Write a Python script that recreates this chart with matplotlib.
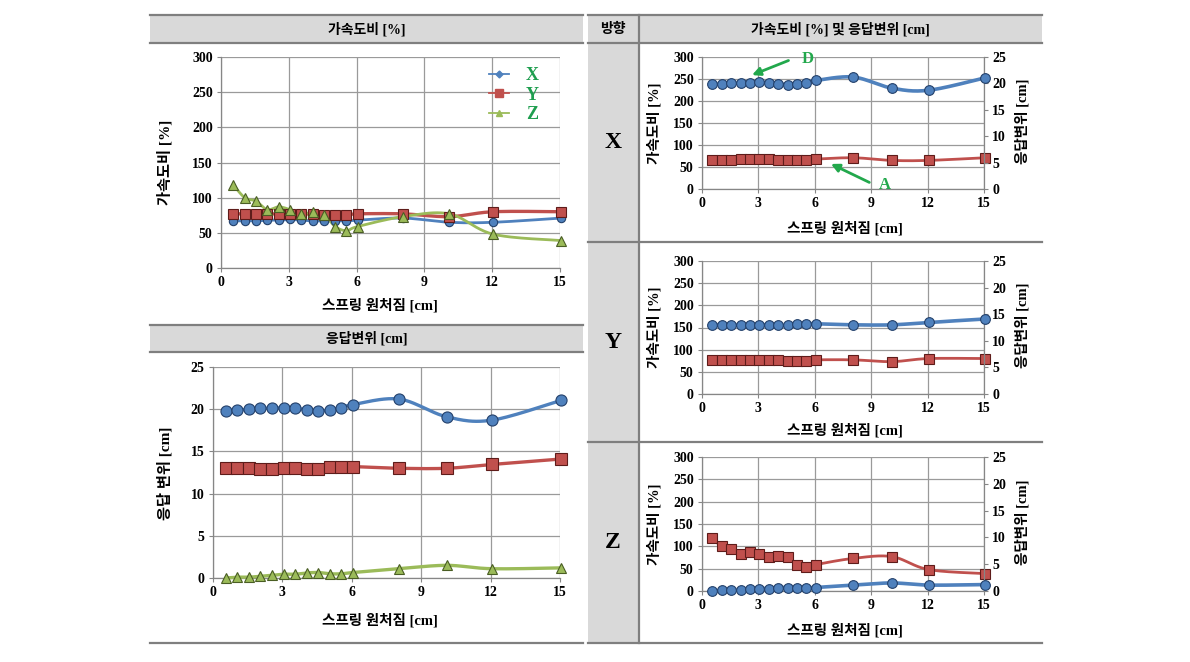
import numpy as np
import matplotlib
matplotlib.use("Agg")
import matplotlib.pyplot as plt
from matplotlib.lines import Line2D
from matplotlib.patches import Rectangle

# ---------------- data ----------------
spring = [0.55, 1.05, 1.55, 2.05, 2.55, 3.05, 3.55, 4.05, 4.55, 5.05, 5.55, 6.05, 8.05, 10.1, 12.05, 15.05]

acc_x = [67, 67, 67, 68, 68, 69, 68, 67, 67, 67, 67, 68, 71, 65, 65, 71]
acc_y = [77, 77, 77, 77, 77, 77, 77, 77, 75, 75, 75, 77, 77, 73, 80, 80]
acc_z = [118, 100, 95, 83, 87, 83, 77, 79, 76, 59, 53, 59, 73, 77, 48, 39]

disp_x = [19.8, 19.9, 20.0, 20.1, 20.1, 20.2, 20.1, 19.95, 19.75, 19.95, 20.15, 20.55, 21.2, 19.1, 18.7, 21.05]
disp_y = [13.0, 13.0, 13.0, 12.9, 12.9, 13.0, 13.0, 12.9, 12.9, 13.15, 13.15, 13.2, 13.0, 13.0, 13.45, 14.1]
disp_z = [0.0, 0.1, 0.1, 0.2, 0.3, 0.45, 0.45, 0.6, 0.65, 0.5, 0.5, 0.65, 1.1, 1.5, 1.1, 1.2]

x_ticks = [0, 3, 6, 9, 12, 15]
acc_ticks = [0, 50, 100, 150, 200, 250, 300]
disp_ticks = [0, 5, 10, 15, 20, 25]
dir_labels = ["X", "Y", "Z"]
legend_labels = ["X", "Y", "Z"]

# ---------------- style ----------------
W, H = 1190, 662
BLUE, BLUE_E = "#4f81bd", "#24416b"
RED, RED_E = "#c0504d", "#5e1c1a"
GREEN, GREEN_E = "#9bbb59", "#4a5e24"
LEG_GREEN = "#1f9e4f"
GRID = "#9a9a9a"
TABLE = "#7f7f7f"
FILL = "#d9d9d9"
SERIF = ["Liberation Serif", "DejaVu Serif"]
MIX = ["Liberation Serif", "Noto Sans CJK KR", "DejaVu Sans"]
KR = ["Noto Sans CJK KR", "DejaVu Sans"]
TICK_FS = 10

fig = plt.figure(figsize=(W / 100, H / 100), dpi=100)
fig.patch.set_facecolor("white")


def fx(x):
    return x / W


def fy(y):
    return 1 - y / H


def add_axes(l, r, t, b):
    return fig.add_axes([fx(l), fy(b), fx(r) - fx(l), fy(t) - fy(b)])


def smooth(x, y, n=24):
    x = np.asarray(x, float)
    y = np.asarray(y, float)
    P = np.column_stack([x, y])
    out = [P[0]]
    t = np.linspace(0, 1, n)[1:, None]
    for i in range(len(P) - 1):
        p0 = P[i - 1] if i > 0 else P[i]
        p1, p2 = P[i], P[i + 1]
        p3 = P[i + 2] if i + 2 < len(P) else P[i + 1]
        c1 = p1 + (p2 - p0) / 6
        c2 = p2 - (p3 - p1) / 6
        seg = ((1 - t) ** 3) * p1 + 3 * ((1 - t) ** 2) * t * c1 + 3 * (1 - t) * t ** 2 * c2 + t ** 3 * p2
        out.extend(seg)
    out = np.array(out)
    return out[:, 0], out[:, 1]


def style_axes(ax, yticks, ylim, fs=TICK_FS):
    ax.set_xlim(0, 15)
    ax.set_ylim(*ylim)
    ax.set_xticks(x_ticks)
    ax.set_yticks(yticks)
    ax.grid(True, color=GRID, linewidth=0.9)
    ax.set_axisbelow(True)
    for s in ["top", "right"]:
        ax.spines[s].set_visible(False)
    for s in ["left", "bottom"]:
        ax.spines[s].set_color("#868686")
        ax.spines[s].set_linewidth(0.9)
    ax.tick_params(axis="both", length=3, width=0.8, color="#868686", pad=3, labelsize=fs)
    for lab in ax.get_xticklabels() + ax.get_yticklabels():
        lab.set_fontfamily(SERIF)
        lab.set_fontweight("bold")


def series(ax, x, y, color, ecolor, marker, ms, lw):
    sx, sy = smooth(x, y)
    ax.plot(sx, sy, color=color, lw=lw, solid_capstyle="round", zorder=3, clip_on=False)
    ax.plot(x, y, linestyle="none", marker=marker, ms=ms, mfc=color, mec=ecolor, mew=0.8,
            zorder=4, clip_on=False)


# ---------------- table ----------------
def hline(y, x0, x1):
    fig.add_artist(Line2D([fx(x0), fx(x1)], [fy(y), fy(y)], color=TABLE, lw=1.6))


def rect(x0, y0, x1, y1):
    fig.add_artist(Rectangle((fx(x0), fy(y1)), fx(x1) - fx(x0), fy(y0) - fy(y1),
                             facecolor=FILL, edgecolor="none", zorder=0))


rect(150, 15, 583, 43)
rect(588, 15, 1042, 43)
rect(150, 325, 583, 352)
rect(588, 43, 639, 643)
for y in (15, 43, 643):
    hline(y, 150, 583)
    hline(y, 588, 1042)
hline(325, 150, 583)
hline(352, 150, 583)
hline(242, 588, 1042)
hline(442, 588, 1042)
fig.add_artist(Line2D([fx(639), fx(639)], [fy(15), fy(643)], color=TABLE, lw=1.6))

fig.text(fx(367), fy(29), "가속도비 [%]", ha="center", va="center", fontsize=10, fontweight="bold", family=MIX)
fig.text(fx(367), fy(338), "응답변위 [cm]", ha="center", va="center", fontsize=10, fontweight="bold", family=MIX)
fig.text(fx(613), fy(29), "방향", ha="center", va="center", fontsize=10, fontweight="bold", family=KR)
fig.text(fx(840), fy(29), "가속도비 [%] 및 응답변위 [cm]", ha="center", va="center", fontsize=10, fontweight="bold", family=MIX)
for lab, yc in zip(dir_labels, (143, 343, 543)):
    fig.text(fx(613), fy(yc), lab, ha="center", va="center", fontsize=17, fontweight="bold", family=SERIF)

XLABEL = "스프링 원처짐 [cm]"

# ---------------- top-left: acceleration ratio ----------------
ax1 = add_axes(221, 560, 57, 268)
style_axes(ax1, acc_ticks, (0, 300))
series(ax1, spring, acc_x, BLUE, BLUE_E, "o", 6, 2.0)
series(ax1, spring, acc_y, RED, RED_E, "s", 6.5, 2.4)
series(ax1, spring, acc_z, GREEN, GREEN_E, "^", 6.5, 2.0)
handles = [
    Line2D([], [], color=BLUE, lw=1.3, marker="D", ms=3.5, mfc=BLUE, mec=BLUE),
    Line2D([], [], color=RED, lw=1.3, marker="s", ms=6, mfc=RED, mec=RED),
    Line2D([], [], color=GREEN, lw=1.3, marker="^", ms=5, mfc=GREEN, mec=GREEN),
]
leg = ax1.legend(handles, legend_labels, loc="upper right", bbox_to_anchor=(0.985, 1.03),
                 frameon=False, handlelength=1.1, handletextpad=0.95, labelspacing=0.15,
                 prop={"family": SERIF, "weight": "bold", "size": 13}, labelcolor=LEG_GREEN)
fig.text(fx(380), fy(305), XLABEL, ha="center", va="center", fontsize=10.5, fontweight="bold", family=MIX)
fig.text(fx(165), fy(162), "가속도비 [%]", ha="center", va="center", rotation=90, fontsize=11, fontweight="bold", family=MIX)

# ---------------- bottom-left: displacement ----------------
ax2 = add_axes(213, 560, 367, 578)
style_axes(ax2, disp_ticks, (0, 25))
series(ax2, spring, disp_x, BLUE, BLUE_E, "o", 8, 2.4)
series(ax2, spring, disp_y, RED, RED_E, "s", 8, 2.4)
series(ax2, spring, disp_z, GREEN, GREEN_E, "^", 7.5, 2.4)
fig.text(fx(380), fy(620), XLABEL, ha="center", va="center", fontsize=10.5, fontweight="bold", family=MIX)
fig.text(fx(165), fy(473), "응답 변위 [cm]", ha="center", va="center", rotation=90, fontsize=11, fontweight="bold", family=MIX)

# ---------------- right column ----------------
panels = [
    (acc_x, disp_x, (57, 189), 228),
    (acc_y, disp_y, (261, 394), 430),
    (acc_z, disp_z, (457, 591), 630),
]
right_axes = []
for acc, disp, (t, b), xl_y in panels:
    ax = add_axes(702, 984, t, b)
    style_axes(ax, acc_ticks, (0, 300))
    series(ax, spring, acc, RED, RED_E, "s", 6.5, 2.0)
    axr = ax.twinx()
    axr.set_ylim(0, 25)
    axr.set_yticks(disp_ticks)
    for s in ["top", "left", "bottom"]:
        axr.spines[s].set_visible(False)
    axr.spines["right"].set_color("#868686")
    axr.spines["right"].set_linewidth(0.9)
    axr.tick_params(axis="y", length=3, width=0.8, color="#868686", pad=3, labelsize=TICK_FS)
    for lab in axr.get_yticklabels():
        lab.set_fontfamily(SERIF)
        lab.set_fontweight("bold")
    series(axr, spring, disp, BLUE, BLUE_E, "o", 7, 2.6)
    right_axes.append((ax, axr))
    yc = (t + b) / 2
    fig.text(fx(845), fy(xl_y), XLABEL, ha="center", va="center", fontsize=10.5, fontweight="bold", family=MIX)
    fig.text(fx(654), fy(yc), "가속도비 [%]", ha="center", va="center", rotation=90, fontsize=10.5, fontweight="bold", family=MIX)
    fig.text(fx(1022), fy(yc - 2), "응답변위 [cm]", ha="center", va="center", rotation=90, fontsize=10.5, fontweight="bold", family=MIX)

# annotations in X panel
axX = right_axes[0][0]
arrow = dict(arrowstyle="-|>", color="#22a84c", lw=2.0, mutation_scale=12, shrinkA=0, shrinkB=0)
axX.annotate("", xy=(2.66, 259), xytext=(4.6, 292), arrowprops=arrow, annotation_clip=False)
axX.text(5.6, 296, "D", color="#22a84c", fontsize=12, fontweight="bold", family=SERIF,
         ha="center", va="center", clip_on=False)
axX.annotate("", xy=(6.86, 57), xytext=(8.9, 15), arrowprops=arrow, annotation_clip=False)
axX.text(9.75, 10, "A", color="#22a84c", fontsize=12, fontweight="bold", family=SERIF,
         ha="center", va="center", clip_on=False)

fig.savefig("out.png", dpi=100, facecolor="white")
